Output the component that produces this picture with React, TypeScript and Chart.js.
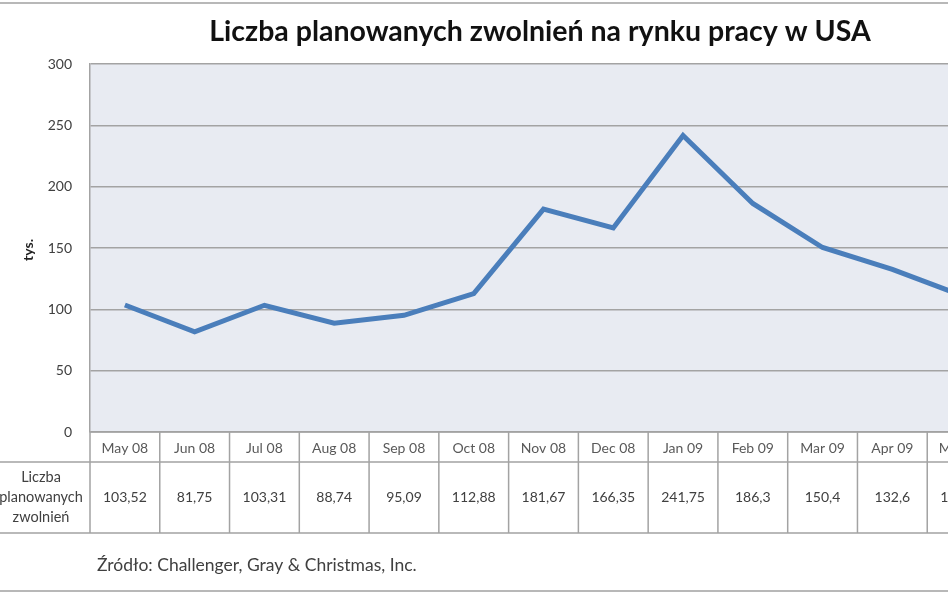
import React, { useEffect, useRef } from "react";
import { Chart, registerables } from "chart.js";

Chart.register(...registerables);

const categories = [
  "May 08", "Jun 08", "Jul 08", "Aug 08", "Sep 08", "Oct 08", "Nov 08",
  "Dec 08", "Jan 09", "Feb 09", "Mar 09", "Apr 09", "May 09",
];
const values = [
  103.52, 81.75, 103.31, 88.74, 95.09, 112.88, 181.67,
  166.35, 241.75, 186.3, 150.4, 132.6, 111.18,
];
const seriesName = ["Liczba", "planowanych", "zwolnień"];
const titleText = "Liczba planowanych zwolnień na rynku pracy w USA";
const axisTitle = "tys.";
const sourceText = "Źródło: Challenger, Gray & Christmas, Inc.";
const yTicks = { min: 0, max: 300, step: 50 };

const FONT = "Lato, 'Open Sans', sans-serif";
const GRID = "#a3a3a3";
const PLOT_BG = "#e8ebf2";

const fmt = (v: number) => String(v).replace(".", ",");

const decorPlugin = {
  id: "decor",
  beforeDraw(chart: any) {
    const { ctx, chartArea: a, width, height } = chart;
    ctx.save();
    ctx.fillStyle = "#ffffff";
    ctx.fillRect(0, 0, width, height);
    ctx.fillStyle = PLOT_BG;
    ctx.fillRect(a.left, a.top, a.right - a.left, a.bottom - a.top);
    ctx.restore();
  },
  afterDraw(chart: any) {
    const { ctx, chartArea: a, width } = chart;
    const x = chart.scales.x;
    const w = x.getPixelForValue(1) - x.getPixelForValue(0);
    const rowTop = a.bottom;
    const row1 = rowTop + 30;
    const row2 = row1 + 71;
    ctx.save();
    // table lines
    ctx.strokeStyle = GRID;
    ctx.lineWidth = 1.5;
    ctx.beginPath();
    ctx.moveTo(a.left, rowTop);
    ctx.lineTo(width, rowTop);
    ctx.moveTo(0, row1);
    ctx.lineTo(width, row1);
    ctx.moveTo(0, row2);
    ctx.lineTo(width, row2);
    for (let i = 0; i <= categories.length; i++) {
      const bx = x.getPixelForValue(0) - w / 2 + i * w;
      ctx.moveTo(bx, rowTop);
      ctx.lineTo(bx, row2);
    }
    ctx.stroke();

    ctx.textAlign = "center";
    ctx.textBaseline = "middle";
    ctx.font = `14px ${FONT}`;
    categories.forEach((c, i) => {
      const cx = x.getPixelForValue(i);
      ctx.fillStyle = "#595959";
      ctx.fillText(c, cx, (rowTop + row1) / 2 + 1);
      ctx.fillStyle = "#404040";
      ctx.fillText(fmt(values[i]), cx, (row1 + row2) / 2);
    });
    ctx.fillStyle = "#404040";
    ctx.font = `14.5px ${FONT}`;
    seriesName.forEach((s, i) => {
      ctx.fillText(s, 41, (row1 + row2) / 2 + (i - 1) * 20);
    });

    // title
    ctx.fillStyle = "#111111";
    ctx.font = `bold 28.5px ${FONT}`;
    ctx.fillText(titleText, 540, 32);

    // axis title
    ctx.save();
    ctx.translate(28, (a.top + a.bottom) / 2 + 2);
    ctx.rotate(-Math.PI / 2);
    ctx.font = `bold 14px ${FONT}`;
    ctx.fillStyle = "#222222";
    ctx.fillText(axisTitle, 0, 0);
    ctx.restore();

    // source
    ctx.textAlign = "left";
    ctx.font = `17.5px ${FONT}`;
    ctx.fillStyle = "#404040";
    ctx.fillText(sourceText, 97, 565);

    // outer border lines
    ctx.strokeStyle = "#b8b8b8";
    ctx.lineWidth = 2;
    ctx.beginPath();
    ctx.moveTo(0, 3);
    ctx.lineTo(width, 3);
    ctx.moveTo(0, 591);
    ctx.lineTo(width, 591);
    ctx.stroke();
    ctx.restore();
  },
};

export default function App() {
  const ref = useRef<HTMLCanvasElement | null>(null);
  useEffect(() => {
    if (!ref.current) return;
    const chart = new Chart(ref.current, {
      type: "line",
      data: {
        labels: categories,
        datasets: [
          {
            label: seriesName.join(" "),
            data: values,
            borderColor: "#4a7ebb",
            borderWidth: 5,
            pointRadius: 0,
            tension: 0,
            fill: false,
          },
        ],
      },
      options: {
        responsive: false,
        animation: false,
        devicePixelRatio: 1,
        layout: { padding: { left: 0, right: 83, top: 64, bottom: 161 } },
        plugins: {
          legend: { display: false },
          title: { display: false },
          tooltip: { enabled: false },
        },
        scales: {
          x: {
            type: "category",
            display: false,
            offset: true,
          },
          y: {
            min: yTicks.min,
            max: yTicks.max,
            afterFit: (s: any) => {
              s.width = 90;
            },
            ticks: {
              stepSize: yTicks.step,
              padding: 18,
              color: "#404040",
              font: { family: FONT, size: 14 },
            },
            grid: { color: GRID, lineWidth: 1.5, drawTicks: false },
            border: { display: true, color: GRID, width: 1.5 },
          },
        },
      },
      plugins: [decorPlugin],
    });
    return () => chart.destroy();
  }, []);
  return (
    <div
      style={{
        position: "absolute",
        left: 0,
        top: 0,
        width: 948,
        height: 593,
        overflow: "hidden",
        background: "#fff",
      }}
    >
      <canvas ref={ref} width={1080} height={593} style={{ display: "block" }} />
    </div>
  );
}
